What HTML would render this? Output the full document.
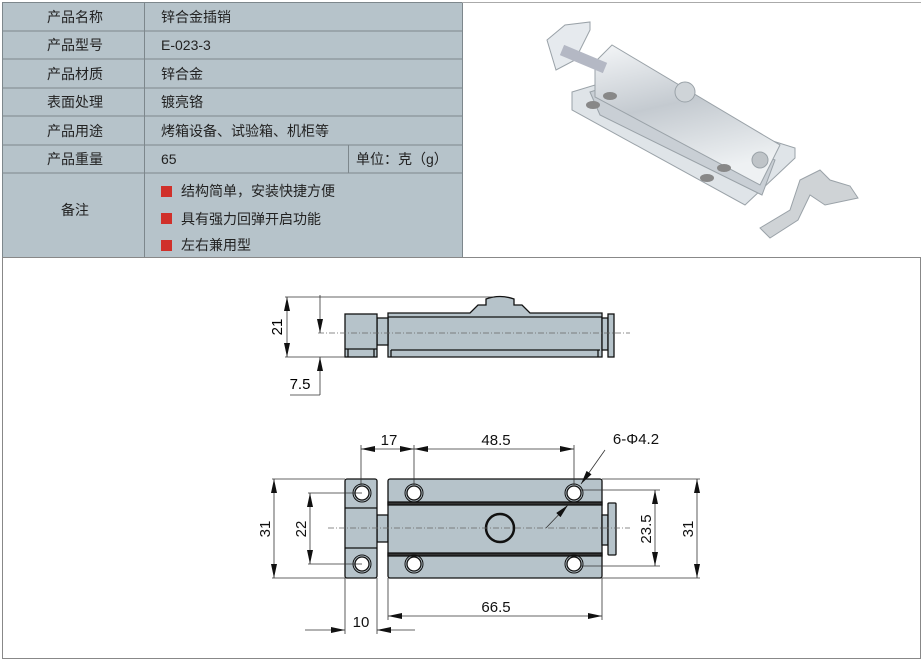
<!DOCTYPE html>
<html><head><meta charset="utf-8"><style>
html,body{margin:0;padding:0;background:#fff;}
body{width:924px;height:660px;position:relative;overflow:hidden;font-family:"Liberation Sans","Noto Sans CJK SC",sans-serif;}
svg{position:absolute;left:0;top:0;}
</style></head><body>
<svg width="924" height="660" viewBox="0 0 924 660" xmlns="http://www.w3.org/2000/svg" font-family="Liberation Sans, Noto Sans CJK SC, sans-serif">
<defs>
<marker id="a" markerWidth="14" markerHeight="6" refX="14" refY="3" orient="auto" markerUnits="userSpaceOnUse"><path d="M0,0 L14,3 L0,6 z" fill="#111"/></marker>
<marker id="b" markerWidth="14" markerHeight="6" refX="0" refY="3" orient="auto" markerUnits="userSpaceOnUse"><path d="M14,0 L0,3 L14,6 z" fill="#111"/></marker>
<linearGradient id="g" x1="0" y1="0" x2="0.3" y2="1"><stop offset="0" stop-color="#f4f6f8"/><stop offset=".5" stop-color="#c4cad0"/><stop offset="1" stop-color="#eef1f3"/></linearGradient>
</defs>
<rect x="2" y="2" width="460" height="255" fill="#b6c3ca"/>
<g stroke="#7d878c" stroke-width="1" fill="none">
<rect x="2.5" y="2.5" width="460" height="255"/>
<line x1="2" y1="31" x2="462" y2="31"/><line x1="2" y1="59" x2="462" y2="59"/><line x1="2" y1="88" x2="462" y2="88"/><line x1="2" y1="116" x2="462" y2="116"/><line x1="2" y1="145" x2="462" y2="145"/><line x1="2" y1="173" x2="462" y2="173"/>
<line x1="144.5" y1="2" x2="144.5" y2="257"/><line x1="348.5" y1="145" x2="348.5" y2="173"/>
</g>
<line x1="462" y1="2.5" x2="921" y2="2.5" stroke="#aaa"/>
<g font-size="14" fill="#222">
<text x="75" y="22" text-anchor="middle">产品名称</text>
<text x="75" y="50" text-anchor="middle">产品型号</text>
<text x="75" y="79" text-anchor="middle">产品材质</text>
<text x="75" y="107" text-anchor="middle">表面处理</text>
<text x="75" y="136" text-anchor="middle">产品用途</text>
<text x="75" y="164" text-anchor="middle">产品重量</text>
<text x="75" y="215" text-anchor="middle">备注</text>
<text x="161" y="22">锌合金插销</text>
<text x="161" y="50">E-023-3</text>
<text x="161" y="79">锌合金</text>
<text x="161" y="107">镀亮铬</text>
<text x="161" y="136">烤箱设备、试验箱、机柜等</text>
<text x="161" y="164">65</text>
<text x="356" y="164">单位：克（g）</text>
<text x="181" y="196">结构简单，安装快捷方便</text>
<text x="181" y="224">具有强力回弹开启功能</text>
<text x="181" y="250">左右兼用型</text>
</g>
<rect x="161" y="186" width="11" height="11" fill="#d0302a"/>
<rect x="161" y="213" width="11" height="11" fill="#d0302a"/>
<rect x="161" y="240" width="11" height="11" fill="#d0302a"/>
<g stroke="#9aa2a8" stroke-width="1">
<polygon points="572,92 595,85 795,148 795,158 745,205 572,110" fill="#dfe4e8"/>
<polygon points="590,92 612,85 775,160 762,195 600,115" fill="#c9cfd5"/>
<polygon points="595,62 612,45 780,145 760,185 595,97" fill="url(#g)"/>
<polygon points="547,40 565,25 590,22 590,30 575,60 556,70" fill="#e6eaee"/>
<line x1="562" y1="50" x2="605" y2="68" stroke="#b4b8c4" stroke-width="11"/>
<circle cx="685" cy="92" r="10" fill="#cfd4d8"/>
<circle cx="760" cy="160" r="8" fill="#bfc4c8"/>
<polygon points="760,228 790,210 800,180 820,170 830,180 850,186 858,198 825,205 810,195 798,220 770,238" fill="#cfd3d6"/>
</g>
<g fill="#888"><ellipse cx="593" cy="105" rx="7" ry="4"/><ellipse cx="610" cy="96" rx="7" ry="4"/><ellipse cx="707" cy="178" rx="7" ry="4"/><ellipse cx="724" cy="168" rx="7" ry="4"/></g>
<rect x="2.5" y="257.5" width="918" height="401" fill="none" stroke="#888"/>
<g stroke="#111" stroke-width="1.3" fill="#b6c3ca">
<path d="M388,313 L470,313 L478,305 L486,305 L486,299 Q500,294 514,299 L514,305 L522,305 L530,313 L602,313 L602,357 L388,357 Z"/>
<rect x="377" y="318" width="11" height="27"/>
<rect x="345" y="314" width="32" height="43"/>
<rect x="602" y="318" width="6" height="32"/>
<rect x="608" y="314" width="6" height="43"/>
<line x1="388" y1="317" x2="602" y2="317"/><line x1="391" y1="350" x2="600" y2="350"/><line x1="391" y1="350" x2="391" y2="357"/><line x1="598" y1="350" x2="598" y2="357"/>
<line x1="345" y1="349" x2="377" y2="349"/><line x1="348" y1="349" x2="348" y2="357"/><line x1="374" y1="349" x2="374" y2="357"/>
</g>
<line x1="318" y1="333" x2="630" y2="333" stroke="#666" stroke-dasharray="6,2,1,2" stroke-width=".8"/>
<g stroke="#333" stroke-width=".8" fill="none">
<line x1="285" y1="297" x2="494" y2="297"/><line x1="285" y1="357" x2="345" y2="357"/>
<line x1="287" y1="297" x2="287" y2="357" marker-start="url(#b)" marker-end="url(#a)"/>
<line x1="320" y1="295" x2="320" y2="333" marker-end="url(#a)"/>
<line x1="320" y1="395" x2="320" y2="357" marker-end="url(#a)"/>
<line x1="290" y1="395" x2="320" y2="395"/>
</g>
<text x="282" y="327" font-size="15" text-anchor="middle" transform="rotate(-90 282 327)">21</text>
<text x="300" y="389" font-size="15" text-anchor="middle">7.5</text>
<g stroke="#111" stroke-width="1.3" fill="#b6c3ca">
<rect x="377" y="515" width="11" height="27"/>
<rect x="345" y="479" width="32" height="99" rx="2"/>
<rect x="388" y="479" width="214" height="99" rx="2"/>
<rect x="602" y="515" width="6" height="30"/>
<rect x="608" y="503" width="8" height="52" rx="1"/>
<line x1="345" y1="508" x2="377" y2="508"/><line x1="345" y1="548" x2="377" y2="548"/>
<rect x="388" y="502" width="214" height="3" fill="#333"/><rect x="388" y="553" width="214" height="3" fill="#333"/>
<circle cx="500" cy="528" r="14" fill="none" stroke-width="2.5"/>
</g>
<g stroke="#111" stroke-width="1.3" fill="#fff">
<circle cx="362" cy="493" r="7"/><circle cx="362" cy="564" r="7"/>
<circle cx="414" cy="493" r="7"/><circle cx="574" cy="493" r="7"/>
<circle cx="414" cy="564" r="7"/><circle cx="574" cy="564" r="7"/>
</g>
<g fill="none" stroke="#111" stroke-width="1"><circle cx="362" cy="493" r="9"/><circle cx="362" cy="564" r="9"/><circle cx="414" cy="493" r="9"/><circle cx="574" cy="493" r="9"/><circle cx="414" cy="564" r="9"/><circle cx="574" cy="564" r="9"/></g>
<line x1="328" y1="528" x2="630" y2="528" stroke="#666" stroke-dasharray="6,2,1,2" stroke-width=".8"/>
<g stroke="#333" stroke-width=".8" fill="none">
<line x1="272" y1="479" x2="345" y2="479"/><line x1="272" y1="578" x2="345" y2="578"/>
<line x1="274" y1="479" x2="274" y2="578" marker-start="url(#b)" marker-end="url(#a)"/>
<line x1="308" y1="493" x2="362" y2="493"/><line x1="308" y1="564" x2="362" y2="564"/>
<line x1="310" y1="493" x2="310" y2="564" marker-start="url(#b)" marker-end="url(#a)"/>
<line x1="361" y1="445" x2="361" y2="485"/><line x1="414" y1="445" x2="414" y2="485"/><line x1="574" y1="445" x2="574" y2="485"/>
<line x1="361" y1="449" x2="414" y2="449" marker-start="url(#b)" marker-end="url(#a)"/>
<line x1="414" y1="449" x2="574" y2="449" marker-start="url(#b)" marker-end="url(#a)"/>
<line x1="602" y1="479" x2="700" y2="479"/><line x1="602" y1="578" x2="700" y2="578"/>
<line x1="697" y1="479" x2="697" y2="578" marker-start="url(#b)" marker-end="url(#a)"/>
<line x1="580" y1="490" x2="660" y2="490"/><line x1="580" y1="566" x2="660" y2="566"/>
<line x1="655" y1="490" x2="655" y2="566" marker-start="url(#b)" marker-end="url(#a)"/>
<line x1="388" y1="578" x2="388" y2="620"/><line x1="602" y1="578" x2="602" y2="620"/>
<line x1="388" y1="616" x2="602" y2="616" marker-start="url(#b)" marker-end="url(#a)"/>
<line x1="345" y1="578" x2="345" y2="634"/><line x1="377" y1="578" x2="377" y2="634"/>
<line x1="305" y1="630" x2="345" y2="630" marker-end="url(#a)"/>
<line x1="415" y1="630" x2="377" y2="630" marker-end="url(#a)"/>
<line x1="605" y1="450" x2="581" y2="484" marker-end="url(#a)"/>
<line x1="546" y1="528" x2="568" y2="505" marker-end="url(#a)"/>
</g>
<g font-size="15" fill="#111" text-anchor="middle">
<text x="389" y="445">17</text>
<text x="496" y="445">48.5</text>
<text x="636" y="444">6-Φ4.2</text>
<text x="496" y="612">66.5</text>
<text x="361" y="627">10</text>
<text x="270" y="529" transform="rotate(-90 270 529)">31</text>
<text x="306" y="529" transform="rotate(-90 306 529)">22</text>
<text x="651" y="529" transform="rotate(-90 651 529)">23.5</text>
<text x="693" y="529" transform="rotate(-90 693 529)">31</text>
</g>
</svg>
</body></html>
